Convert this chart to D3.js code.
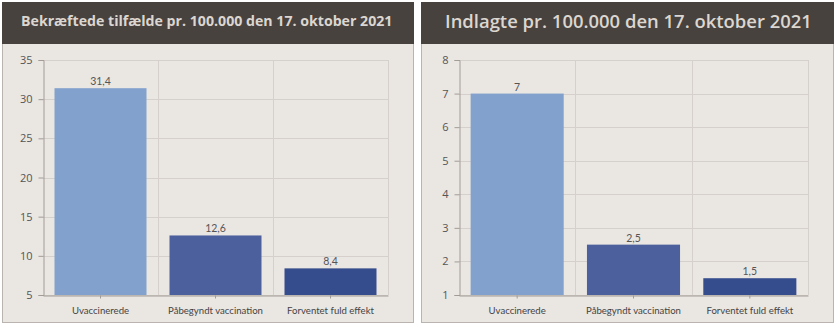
<!DOCTYPE html>
<html>
<head>
<meta charset="utf-8">
<script src="https://cdn.jsdelivr.net/npm/d3@7"></script>
<style>
  html, body { margin: 0; padding: 0; background: #ffffff; }
  svg { display: block; }
</style>
</head>
<body>
<svg id="chart" width="840" height="325"></svg>
<script>
// Vaccination status groups
const categories = ["Uvaccinerede", "Påbegyndt vaccination", "Forventet fuld effekt"];

// Confirmed cases per 100,000
const confirmedTitle = "Bekræftede tilfælde pr. 100.000 den 17. oktober 2021";
const confirmedValues = [31.4, 12.6, 8.4];
const confirmedTicks = [5, 10, 15, 20, 25, 30, 35];

// Hospital admissions per 100,000
const admittedTitle = "Indlagte pr. 100.000 den 17. oktober 2021";
const admittedValues = [7, 2.5, 1.5];
const admittedTicks = [1, 2, 3, 4, 5, 6, 7, 8];

const barColors = ["#82a1cc", "#4b609d", "#364d8d"];

const svg = d3.select("#chart");
const fmt = v => String(v).replace(".", ",");

function panel(cfg) {
  const g = svg.append("g");

  // frame and body
  g.append("rect")
    .attr("x", cfg.x + 0.5).attr("y", 2.5)
    .attr("width", cfg.w).attr("height", 320)
    .attr("fill", "#eae6e2").attr("stroke", "#b9b4af");

  // title bar
  g.append("rect")
    .attr("x", cfg.x).attr("y", 2)
    .attr("width", cfg.w + 1).attr("height", 42)
    .attr("fill", "#48423e");

  const title = g.append("text")
    .attr("x", cfg.titleX).attr("y", cfg.titleY)
    .attr("fill", "#dcd6d0")
    .attr("font-family", "'Open Sans', sans-serif")
    .attr("font-weight", cfg.titleWeight)
    .attr("font-size", 16)
    .text(cfg.title);
  // size the title to its header width
  const tw = title.node().getComputedTextLength();
  title.attr("font-size", 16 * cfg.titleWidth / tw);

  const x = d3.scaleBand()
    .domain(categories)
    .range([cfg.left, cfg.right])
    .paddingInner(0.2)
    .paddingOuter(0.1);

  const y = d3.scaleLinear()
    .domain(d3.extent(cfg.ticks))
    .range([295, 60]);

  // horizontal grid
  g.append("g").selectAll("line")
    .data(cfg.ticks)
    .join("line")
    .attr("x1", cfg.left).attr("x2", cfg.right)
    .attr("y1", d => Math.round(y(d)) + 0.5).attr("y2", d => Math.round(y(d)) + 0.5)
    .attr("stroke", "#d5d0cb");

  // vertical separators between categories
  const step = x.step();
  g.append("g").selectAll("line")
    .data(categories)
    .join("line")
    .attr("x1", (d, i) => Math.round(cfg.left + step * (i + 1)) + 0.5)
    .attr("x2", (d, i) => Math.round(cfg.left + step * (i + 1)) + 0.5)
    .attr("y1", 60).attr("y2", 295)
    .attr("stroke", "#d5d0cb");

  // bars
  g.append("g").selectAll("rect")
    .data(cfg.values)
    .join("rect")
    .attr("x", (d, i) => x(categories[i]))
    .attr("width", x.bandwidth())
    .attr("y", d => y(d))
    .attr("height", d => y.range()[0] - y(d))
    .attr("fill", (d, i) => barColors[i]);

  // value labels
  g.append("g").selectAll("text")
    .data(cfg.values)
    .join("text")
    .attr("x", (d, i) => x(categories[i]) + x.bandwidth() / 2)
    .attr("y", d => y(d) - 3)
    .attr("text-anchor", "middle")
    .attr("font-family", "Lato, sans-serif")
    .attr("font-size", 10.5)
    .attr("fill", "#555")
    .text(fmt);

  // y axis
  const yAxis = g.append("g")
    .attr("transform", `translate(${cfg.left + 0.5},0)`)
    .call(d3.axisLeft(y).tickValues(cfg.ticks).tickSize(5).tickPadding(6).tickFormat(fmt));
  yAxis.select(".domain").attr("stroke", "#a29c97");
  yAxis.selectAll(".tick line").attr("stroke", "#a29c97");
  yAxis.selectAll(".tick text")
    .attr("font-family", "'Open Sans', sans-serif")
    .attr("font-size", 11).attr("fill", "#555");

  // x axis
  const xAxis = g.append("g")
    .attr("transform", `translate(0,${295.5})`)
    .call(d3.axisBottom(x).tickSize(3).tickPadding(9).tickSizeOuter(0));
  xAxis.select(".domain").attr("stroke", "#a29c97");
  xAxis.selectAll(".tick line").attr("stroke", "#a29c97");
  xAxis.selectAll(".tick text")
    .attr("font-family", "Lato, sans-serif")
    .attr("font-size", 9.6).attr("fill", "#444");
}

panel({
  x: 2, w: 411, left: 43, right: 388,
  title: confirmedTitle, titleX: 21, titleY: 26, titleWidth: 372, titleWeight: 700,
  values: confirmedValues, ticks: confirmedTicks
});

panel({
  x: 421, w: 412, left: 459, right: 808,
  title: admittedTitle, titleX: 445, titleY: 28, titleWidth: 367, titleWeight: 600,
  values: admittedValues, ticks: admittedTicks
});
</script>
</body>
</html>
